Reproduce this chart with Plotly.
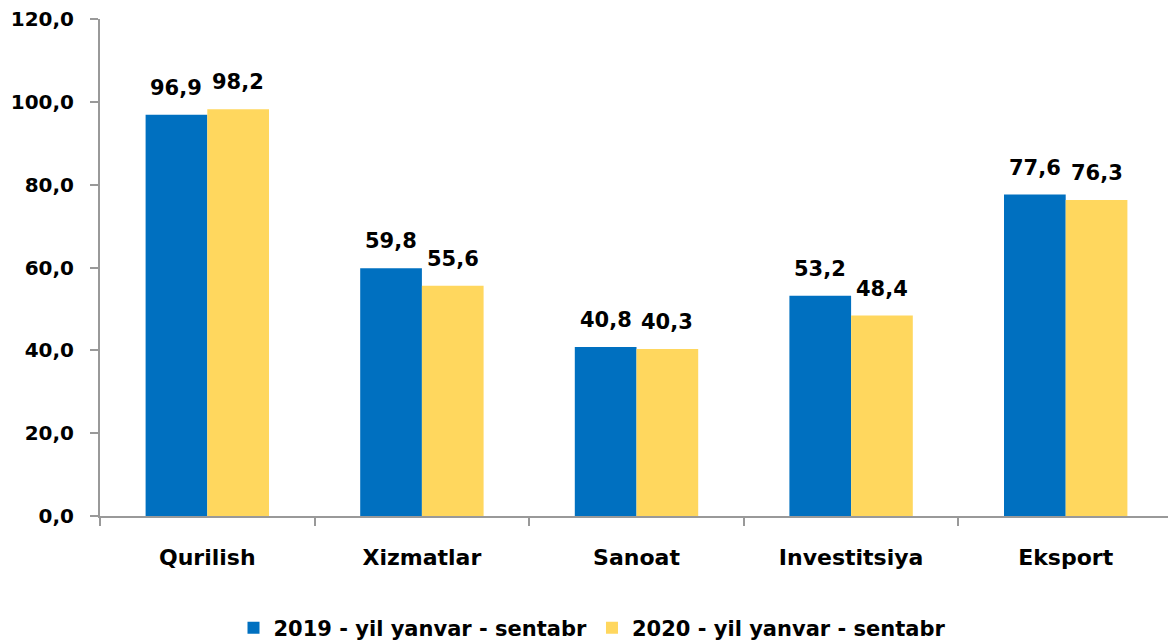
import plotly.graph_objects as go

categories = ["Qurilish", "Xizmatlar", "Sanoat", "Investitsiya", "Eksport"]
values_2019 = [96.9, 59.8, 40.8, 53.2, 77.6]
values_2020 = [98.2, 55.6, 40.3, 48.4, 76.3]
series_names = ["2019 - yil yanvar - sentabr", "2020 - yil yanvar - sentabr"]

FONT = "DejaVu Sans, Arial, sans-serif"
BLUE = "#0070C0"
YELLOW = "#FFD75E"
AXIS = "#999999"

# page body adds an 8px offset, so the figure is a little smaller than the window
W, H = 1168, 635
margin = dict(l=92, r=3, t=11, b=127)
bargap = 0.425
cat_px = (W - margin["l"] - margin["r"]) / len(categories)
bar_px = cat_px * (1 - bargap) / 2

fig = go.Figure()
fig.add_trace(go.Bar(x=categories, y=values_2019, name=series_names[0],
                     marker=dict(color=BLUE, line=dict(width=0))))
fig.add_trace(go.Bar(x=categories, y=values_2020, name=series_names[1],
                     marker=dict(color=YELLOW, line=dict(width=0))))

# value labels above each bar
for vals, shift in [(values_2019, -bar_px / 2), (values_2020, bar_px / 2)]:
    for c, v in zip(categories, vals):
        fig.add_annotation(x=c, y=v, text=f"{v:.1f}".replace(".", ","),
                           xshift=shift, yshift=13, yanchor="bottom",
                           showarrow=False,
                           font=dict(family=FONT, size=21, color="black", weight="bold"))

fig.update_layout(
    width=W, height=H,
    margin=margin,
    barmode="group", bargap=bargap, bargroupgap=0,
    separators=", ",
    paper_bgcolor="white", plot_bgcolor="white",
    font=dict(family=FONT, color="black", size=20, weight="bold"),
    showlegend=True,
    legend=dict(orientation="h", xref="container", x=0.5, xanchor="center",
                yref="container", y=15 / H, yanchor="middle",
                font=dict(family=FONT, size=21, weight="bold"),
                itemwidth=30, tracegroupgap=0),
    xaxis=dict(showline=True, linecolor=AXIS, linewidth=2, automargin=False,
               ticks="outside", tickson="boundaries", ticklen=8, tickcolor=AXIS, tickwidth=2,
               ticklabelstandoff=21,
               tickfont=dict(family=FONT, size=22, weight="bold")),
    yaxis=dict(range=[0, 120], dtick=20, tickformat=".1f", automargin=False,
               ticklabeloverflow="allow",
               showline=True, linecolor=AXIS, linewidth=2, showgrid=False, zeroline=False,
               ticks="outside", ticklen=8, tickcolor=AXIS, tickwidth=2,
               ticklabelstandoff=12,
               tickfont=dict(family=FONT, size=20, weight="bold")),
)

fig.write_html("out.html")
